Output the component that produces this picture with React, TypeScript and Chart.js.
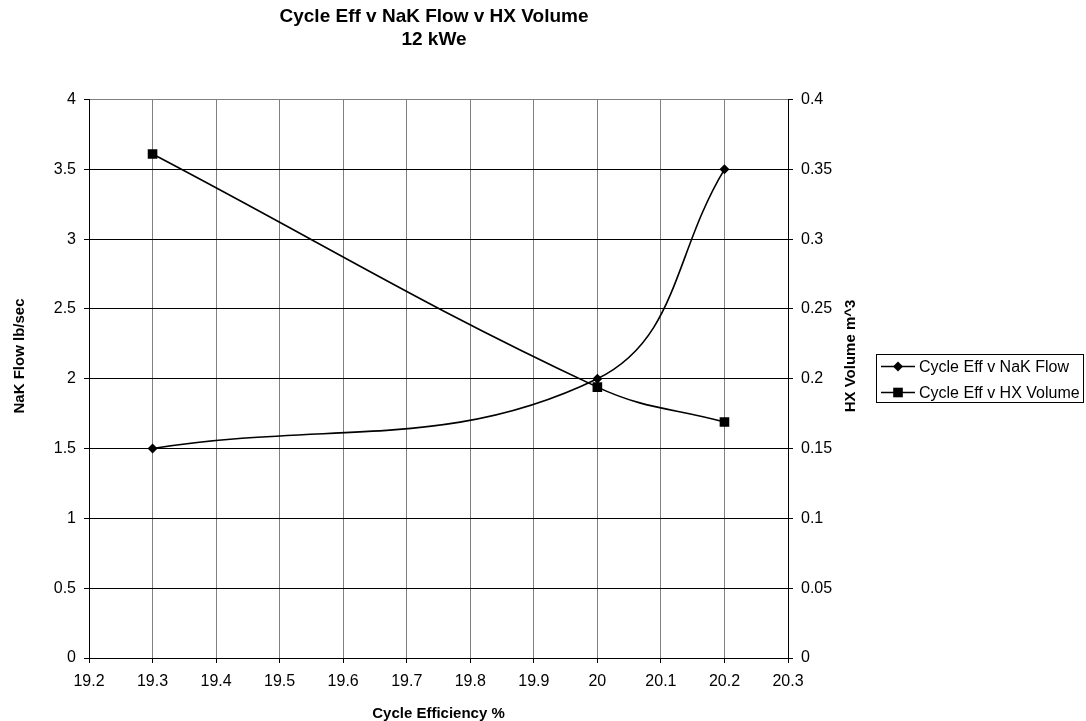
import React, { useEffect, useRef } from 'react';
import { Chart, registerables } from 'chart.js';

Chart.register(...registerables);

const CYCLE_EFF = [19.3, 20.0, 20.2];
const NAK_FLOW = [1.5, 2.0, 3.5];
const HX_VOLUME = [0.361, 0.194, 0.169];

const X_TICKS = [19.2, 19.3, 19.4, 19.5, 19.6, 19.7, 19.8, 19.9, 20.0, 20.1, 20.2, 20.3];
const LEFT_TICKS = [0, 0.5, 1, 1.5, 2, 2.5, 3, 3.5, 4];
const RIGHT_TICKS = [0, 0.05, 0.1, 0.15, 0.2, 0.25, 0.3, 0.35, 0.4];

const TITLE_LINES = ['Cycle Eff v NaK Flow v HX Volume', '12 kWe'];
const SERIES_LABELS = ['Cycle Eff v NaK Flow', 'Cycle Eff v HX Volume'];
const X_TITLE = 'Cycle Efficiency %';
const LEFT_TITLE = 'NaK Flow lb/sec';
const RIGHT_TITLE = 'HX Volume m^3';

const FONT = "'Liberation Sans', Arial, sans-serif";

const fmt = (v: number) => String(Number(Number(v).toFixed(3)));

function drawMarker(ctx: CanvasRenderingContext2D, style: string, x: number, y: number, r: number) {
  ctx.beginPath();
  if (style === 'rectRot') {
    ctx.moveTo(x, y - r);
    ctx.lineTo(x + r, y);
    ctx.lineTo(x, y + r);
    ctx.lineTo(x - r, y);
  } else {
    const h = r * Math.SQRT1_2;
    ctx.rect(x - h, y - h, h * 2, h * 2);
  }
  ctx.closePath();
  ctx.fill();
}

const boxLegend = {
  id: 'boxLegend',
  afterDraw(chart: any) {
    const ctx = chart.ctx as CanvasRenderingContext2D;
    const x0 = 876, y0 = 354, w = 207, h = 48;
    ctx.save();
    ctx.strokeStyle = '#000';
    ctx.lineWidth = 1;
    ctx.strokeRect(x0 + 0.5, y0 + 0.5, w, h);
    chart.data.datasets.forEach((ds: any, i: number) => {
      const y = y0 + 12.5 + i * 26;
      ctx.strokeStyle = ds.borderColor;
      ctx.lineWidth = ds.borderWidth;
      ctx.beginPath();
      ctx.moveTo(x0 + 5, y);
      ctx.lineTo(x0 + 39, y);
      ctx.stroke();
      ctx.fillStyle = ds.backgroundColor;
      drawMarker(ctx, ds.pointStyle, x0 + 22, y, ds.pointRadius);
      ctx.fillStyle = '#000';
      ctx.font = `16px ${FONT}`;
      ctx.textAlign = 'left';
      ctx.textBaseline = 'middle';
      ctx.fillText(ds.label, x0 + 43, y + 1);
    });
    ctx.restore();
  },
};

const yTitles = {
  id: 'yTitles',
  afterDraw(chart: any) {
    const ctx = chart.ctx as CanvasRenderingContext2D;
    const cy = 356;
    ctx.save();
    ctx.fillStyle = '#000';
    ctx.font = `bold 15px ${FONT}`;
    ctx.textAlign = 'center';
    ctx.textBaseline = 'middle';
    [[19.5, LEFT_TITLE], [851, RIGHT_TITLE]].forEach(([x, t]) => {
      ctx.save();
      ctx.translate(x as number, cy);
      ctx.rotate(-Math.PI / 2);
      ctx.fillText(t as string, 0, 0);
      ctx.restore();
    });
    ctx.restore();
  },
};

export default function App() {
  const ref = useRef<HTMLCanvasElement>(null);

  useEffect(() => {
    if (!ref.current) return;
    const chart = new Chart(ref.current, {
      type: 'line',
      data: {
        datasets: [
          {
            label: SERIES_LABELS[0],
            data: CYCLE_EFF.map((x, i) => ({ x, y: NAK_FLOW[i] })),
            yAxisID: 'y',
            borderColor: '#000',
            backgroundColor: '#000',
            borderWidth: 1.6,
            pointStyle: 'rectRot',
            pointRadius: 5,
            pointBorderWidth: 0,
            tension: 0.4,
          },
          {
            label: SERIES_LABELS[1],
            data: CYCLE_EFF.map((x, i) => ({ x, y: HX_VOLUME[i] })),
            yAxisID: 'y1',
            borderColor: '#000',
            backgroundColor: '#000',
            borderWidth: 1.6,
            pointStyle: 'rect',
            pointRadius: 6.8,
            pointBorderWidth: 0,
            tension: 0.4,
          },
        ],
      },
      options: {
        responsive: false,
        animation: false,
        layout: { padding: { right: 218, top: 0, left: 0, bottom: 0 } },
        plugins: {
          legend: { display: false },
          tooltip: { enabled: false },
          title: {
            display: true,
            text: TITLE_LINES,
            color: '#000',
            font: { family: FONT, size: 19, weight: 'bold', lineHeight: 1.237 },
            padding: { top: 5, bottom: 47.5 },
          },
        },
        scales: {
          x: {
            type: 'linear',
            min: 19.2,
            max: 20.3,
            afterBuildTicks: (s: any) => {
              s.ticks = X_TICKS.map((v) => ({ value: v }));
            },
            afterFit: (s: any) => {
              s.height = 63;
            },
            ticks: {
              callback: (v: any) => fmt(v),
              color: '#000',
              font: { family: FONT, size: 16 },
              padding: 9,
              maxRotation: 0,
              autoSkip: false,
            },
            grid: { color: '#808080', tickColor: '#000', tickLength: 5, lineWidth: 1 },
            border: { color: '#000', width: 1 },
            title: {
              display: true,
              text: X_TITLE,
              color: '#000',
              font: { family: FONT, size: 15, weight: 'bold', lineHeight: 1 },
              padding: { top: 0, bottom: 0 },
            },
          },
          y: {
            type: 'linear',
            position: 'left',
            min: 0,
            max: 4,
            afterBuildTicks: (s: any) => {
              s.ticks = LEFT_TICKS.map((v) => ({ value: v }));
            },
            afterFit: (s: any) => {
              s.width = 89;
            },
            ticks: {
              callback: (v: any) => fmt(v),
              color: '#000',
              font: { family: FONT, size: 16 },
              padding: 8,
            },
            grid: {
              color: (c: any) => (c.tick && c.tick.value === 4 ? '#808080' : '#000'),
              tickColor: '#000',
              tickLength: 5,
              lineWidth: 1,
            },
            border: { color: '#000', width: 1 },
          },
          y1: {
            type: 'linear',
            position: 'right',
            min: 0,
            max: 0.4,
            afterBuildTicks: (s: any) => {
              s.ticks = RIGHT_TICKS.map((v) => ({ value: v }));
            },
            afterFit: (s: any) => {
              s.width = 80;
            },
            ticks: {
              callback: (v: any) => fmt(v),
              color: '#000',
              font: { family: FONT, size: 16 },
              padding: 8,
            },
            grid: { drawOnChartArea: false, color: '#000', tickColor: '#000', tickLength: 5 },
            border: { color: '#000', width: 1 },
          },
        },
      },
      plugins: [boxLegend, yTitles],
    } as any);
    return () => chart.destroy();
  }, []);

  return (
    <div style={{ position: 'absolute', left: 0, top: 0, width: 1086, height: 721, background: '#fff' }}>
      <canvas ref={ref} width={1086} height={721} style={{ display: 'block' }} />
    </div>
  );
}
